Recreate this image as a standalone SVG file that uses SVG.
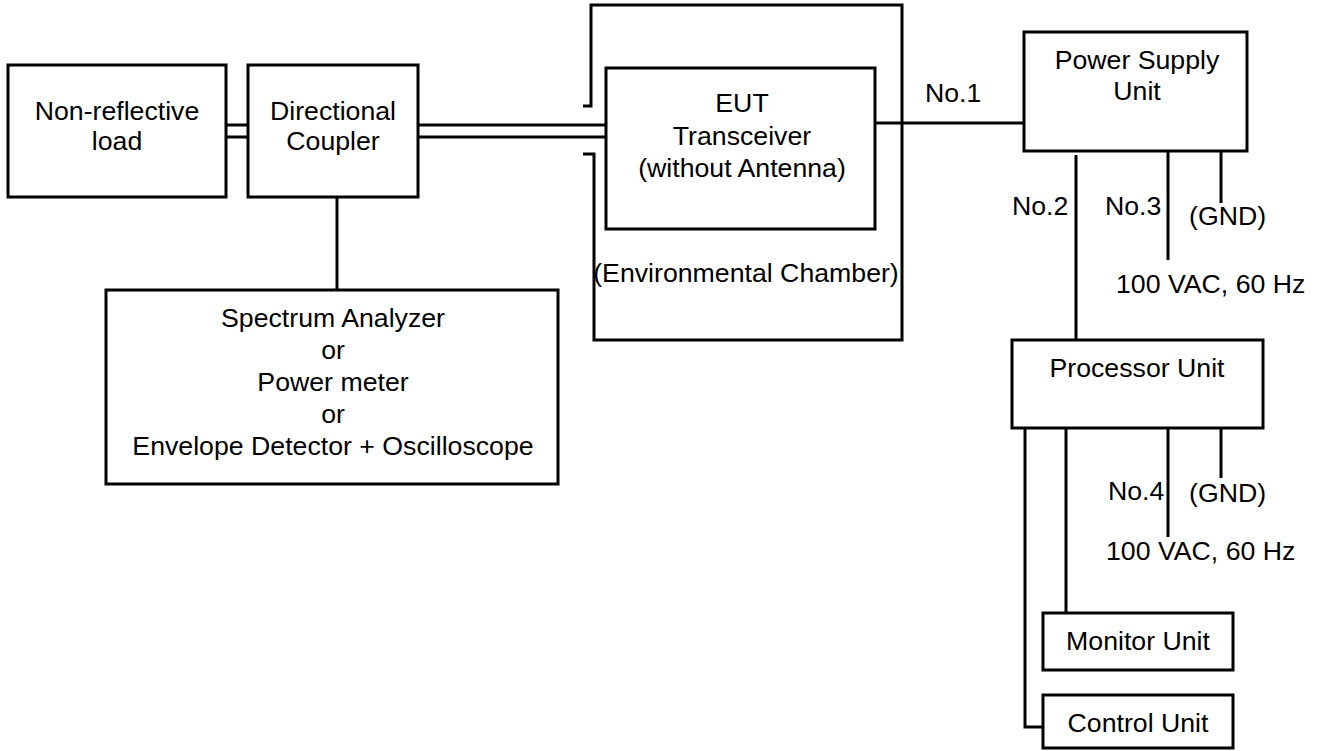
<svg xmlns="http://www.w3.org/2000/svg" width="1324" height="751" viewBox="0 0 1324 751">
<style>
rect, .ln { fill: none; stroke: #000; stroke-width: 3; }
rect { fill: #fff; }
text { font-family: "Liberation Sans", Arial, sans-serif; font-size: 26.7px; fill: #000; }
.c { text-anchor: middle; }
</style>
<rect x="0" y="0" width="1324" height="751" style="stroke:none"/>
<g id="connectors">
  <path class="ln" d="M226,125 H248 M226,137 H248"/>
  <path class="ln" d="M418,125 H608 M418,137 H608"/>
  <path class="ln" d="M337,197 V290"/>
  <path class="ln" d="M875,123 H1025"/>
  <path class="ln" d="M1076,155 V340"/>
  <path class="ln" d="M1168,151 V260"/>
  <path class="ln" d="M1221,151 V203"/>
  <path class="ln" d="M1168,428 V537"/>
  <path class="ln" d="M1221,428 V478"/>
  <path class="ln" d="M1066,428 V613"/>
  <path class="ln" d="M1025,428 V727 H1043"/>
</g>
<g id="chamber">
  <path class="ln" d="M583,106 H591 V5 H902 V340 H594 V154 H583"/>
  <text class="c" x="746" y="282">(Environmental Chamber)</text>
</g>
<g id="load">
  <rect x="8" y="65" width="218" height="132"/>
  <text class="c" x="117" y="120">Non-reflective</text>
  <text class="c" x="117" y="150">load</text>
</g>
<g id="coupler">
  <rect x="248" y="65" width="170" height="132"/>
  <text class="c" x="333" y="120">Directional</text>
  <text class="c" x="333" y="150">Coupler</text>
</g>
<g id="analyzer">
  <rect x="106" y="290" width="452" height="194"/>
  <text class="c" x="333" y="327">Spectrum Analyzer</text>
  <text class="c" x="333" y="359">or</text>
  <text class="c" x="333" y="391">Power meter</text>
  <text class="c" x="333" y="423">or</text>
  <text class="c" x="333" y="455">Envelope Detector + Oscilloscope</text>
</g>
<g id="eut">
  <rect x="606" y="68" width="269" height="161"/>
  <text class="c" x="742" y="112">EUT</text>
  <text class="c" x="742" y="145">Transceiver</text>
  <text class="c" x="742" y="177">(without Antenna)</text>
</g>
<g id="psu">
  <rect x="1024" y="32" width="223" height="119"/>
  <text class="c" x="1137" y="69">Power Supply</text>
  <text class="c" x="1137" y="100">Unit</text>
</g>
<g id="processor">
  <rect x="1012" y="340" width="251" height="88"/>
  <text class="c" x="1137" y="377">Processor Unit</text>
</g>
<g id="monitor">
  <rect x="1043" y="613" width="190" height="57"/>
  <text class="c" x="1138" y="650">Monitor Unit</text>
</g>
<g id="control">
  <rect x="1043" y="695" width="190" height="53"/>
  <text class="c" x="1138" y="732">Control Unit</text>
</g>
<g id="labels">
  <text x="925" y="102">No.1</text>
  <text x="1012" y="215">No.2</text>
  <text x="1105" y="215">No.3</text>
  <text x="1189" y="225">(GND)</text>
  <text x="1116" y="293">100 VAC, 60 Hz</text>
  <text x="1108" y="500">No.4</text>
  <text x="1189" y="502">(GND)</text>
  <text x="1106" y="560">100 VAC, 60 Hz</text>
</g>
</svg>
